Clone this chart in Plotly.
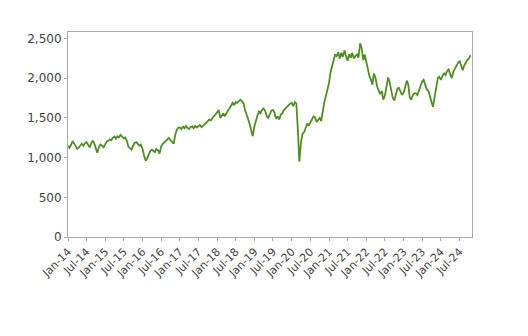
import pandas as pd
import plotly.graph_objects as go

# semi-monthly readings (1st and 15th of each month)
v2014 = [1150, 1125, 1165, 1210, 1180, 1140, 1110, 1125, 1160, 1175, 1150, 1180,
         1195, 1170, 1130, 1175, 1215, 1180, 1100, 1060, 1140, 1165, 1150, 1130]
v2015 = [1170, 1200, 1215, 1230, 1220, 1250, 1265, 1240, 1270, 1255, 1285, 1260,
         1240, 1255, 1210, 1140, 1120, 1100, 1150, 1185, 1195, 1170, 1150, 1165]
v2016 = [1110, 1030, 960, 990, 1050, 1080, 1100, 1090, 1070, 1110, 1090, 1050,
         1140, 1170, 1190, 1210, 1230, 1250, 1220, 1200, 1175, 1280, 1350, 1375]
v2017 = [1380, 1360, 1390, 1370, 1400, 1375, 1360, 1385, 1395, 1370, 1400, 1380,
         1395, 1410, 1385, 1400, 1420, 1440, 1460, 1480, 1470, 1500, 1530, 1545]
v2018 = [1570, 1600, 1500, 1530, 1560, 1520, 1550, 1590, 1620, 1650, 1690, 1660,
         1700, 1690, 1720, 1730, 1710, 1690, 1600, 1530, 1480, 1420, 1350, 1270]
v2019 = [1400, 1470, 1540, 1580, 1560, 1600, 1620, 1590, 1520, 1500, 1560, 1590,
         1600, 1570, 1490, 1520, 1480, 1540, 1560, 1600, 1620, 1640, 1660, 1680]
v2020 = [1690, 1650, 1700, 1680, 1350, 950, 1200, 1300, 1320, 1380, 1430, 1400,
         1450, 1480, 1520, 1510, 1450, 1470, 1500, 1460, 1600, 1700, 1780, 1850]
v2021 = [1950, 2080, 2180, 2250, 2300, 2280, 2330, 2250, 2320, 2270, 2350, 2280,
         2220, 2300, 2260, 2320, 2250, 2280, 2300, 2260, 2440, 2380, 2230, 2300]
v2022 = [2200, 2100, 2020, 1980, 1920, 2060, 2000, 1900, 1830, 1800, 1840, 1730,
         1780, 1880, 2010, 1960, 1870, 1760, 1720, 1790, 1870, 1880, 1830, 1790]
v2023 = [1820, 1900, 1970, 1920, 1760, 1730, 1790, 1810, 1810, 1790, 1850, 1900,
         1960, 1980, 1900, 1860, 1840, 1760, 1700, 1640, 1780, 1900, 2000, 2020]
v2024 = [1980, 2030, 2060, 2040, 2090, 2110, 2040, 2000, 2080, 2120, 2170, 2190,
         2220, 2170, 2100, 2160, 2200, 2230, 2250, 2290]

values = v2014 + v2015 + v2016 + v2017 + v2018 + v2019 + v2020 + v2021 + v2022 + v2023 + v2024
dates = pd.date_range("2014-01-01", periods=len(values), freq="SMS")

y_ticks = [0, 500, 1000, 1500, 2000, 2500]

fig = go.Figure()
fig.add_trace(go.Scatter(x=dates, y=values, mode="lines",
                         line=dict(color="#4f8f22", width=1.8), showlegend=False))

fig.update_layout(
    width=528, height=336,
    margin=dict(l=68, r=56, t=32, b=99),
    paper_bgcolor="white", plot_bgcolor="white",
    font=dict(family="DejaVu Sans", color="#444444"),
)
fig.update_xaxes(
    range=["2014-01-01", "2024-10-31"],
    tick0="2014-01-01", dtick="M6", tickformat="%b-%y", tickangle=-45,
    tickfont=dict(size=11), showgrid=False, zeroline=False,
    showline=True, linecolor="#aaaaaa", linewidth=1, mirror=True,
    ticks="outside", ticklen=3, tickcolor="#aaaaaa",
)
fig.update_yaxes(
    range=[0, 2583], tickvals=y_ticks, tickformat=",",
    tickfont=dict(size=12), showgrid=False, zeroline=False,
    showline=True, linecolor="#aaaaaa", linewidth=1, mirror=True,
    ticks="outside", ticklen=3, tickcolor="#aaaaaa",
)

fig.write_html("out.html")
